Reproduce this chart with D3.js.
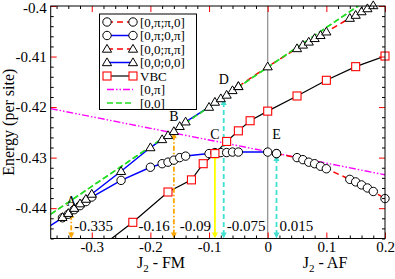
<!DOCTYPE html>
<html lang="en">
<head>
<meta charset="UTF-8">
<title>Energy per site</title>
<script src="https://cdn.jsdelivr.net/npm/d3@7/dist/d3.min.js"></script>
<style>
  body { margin: 0; background: #fff; }
  svg { font-family: "Liberation Serif", "DejaVu Serif", serif; }
</style>
</head>
<body>
<svg id="chart" width="395" height="279"></svg>
<script>
// ---- data ----
const s1X = [0.015, 0.05, 0.06, 0.07, 0.08, 0.09, 0.1, 0.14, 0.15, 0.16, 0.17, 0.18, 0.2]
const s1Y = [-0.4292, -0.4300, -0.4304, -0.4309, -0.4312, -0.4317, -0.4322, -0.4343, -0.4348, -0.4354, -0.4360, -0.4367, -0.4381]

const s2X = [-0.40, -0.35, -0.34, -0.33, -0.32, -0.31, -0.30, -0.25, -0.20, -0.18, -0.17, -0.16, -0.15, -0.14, -0.10, -0.09, -0.08, -0.07, -0.06, -0.05, 0, 0.015]
const s2Y = [-0.4457, -0.4419, -0.4412, -0.4403, -0.4395, -0.4387, -0.4378, -0.4345, -0.4319, -0.4312, -0.4309, -0.4305, -0.4300, -0.4297, -0.4292, -0.4290, -0.4290, -0.4290, -0.4289, -0.4289, -0.4289, -0.4292]

const s3X = [-0.05, 0, 0.05, 0.06, 0.07, 0.08, 0.09, 0.1, 0.14, 0.15, 0.16, 0.17, 0.18]
const s3Y = [-0.4159, -0.4120, -0.4084, -0.4077, -0.4071, -0.4064, -0.4058, -0.4051, -0.4024, -0.4018, -0.4011, -0.4005, -0.3999]

const s4X = [-0.35, -0.34, -0.33, -0.32, -0.31, -0.30, -0.25, -0.20, -0.18, -0.17, -0.16, -0.15, -0.14, -0.10, -0.09, -0.08, -0.07, -0.06, -0.05]
const s4Y = [-0.4418, -0.4410, -0.4400, -0.4391, -0.4382, -0.4372, -0.4327, -0.4280, -0.4264, -0.4256, -0.4248, -0.4238, -0.4229, -0.4200, -0.4190, -0.4183, -0.4176, -0.4167, -0.4159]

const vbcX = [-0.3, -0.23, -0.17, -0.13, -0.11, -0.09, -0.07, -0.05, -0.03, 0, 0.05, 0.1, 0.15, 0.2]
const vbcY = [-0.4490, -0.4428, -0.4368, -0.4344, -0.4312, -0.4292, -0.4268, -0.4247, -0.4227, -0.4208, -0.4178, -0.4147, -0.4120, -0.4099]

const piX = [-0.37, 0.2]
const piY = [-0.4203, -0.4334]
const zeroX = [-0.37, 0.2]
const zeroY = [-0.4412, -0.3964]

const markX = [-0.335, -0.16, -0.09, -0.075, 0.015]
const markTop = [-0.4407, -0.4250, -0.4290, -0.4184, -0.4295]
const markText = ['-0.335', '-0.16', '-0.09', '-0.075', '0.015']

const pointNames = ['A', 'B', 'C', 'D', 'E']
const pointX = [-0.335, -0.16, -0.09, -0.075, 0.015]
const pointY = [-0.4395, -0.4227, -0.4263, -0.4155, -0.4264]

const xMajor = [-0.3, -0.2, -0.1, 0, 0.1, 0.2]
const xMinor = [-0.36, -0.34, -0.32, -0.28, -0.26, -0.24, -0.22, -0.18, -0.16, -0.14, -0.12, -0.08, -0.06, -0.04, -0.02, 0.02, 0.04, 0.06, 0.08, 0.12, 0.14, 0.16, 0.18]
const yMajor = [-0.44, -0.43, -0.42, -0.41, -0.4]
const yMinor = [-0.446, -0.444, -0.442, -0.438, -0.436, -0.434, -0.432, -0.428, -0.426, -0.424, -0.422, -0.418, -0.416, -0.414, -0.412, -0.408, -0.406, -0.404, -0.402]

const legendLabels = ['[0,\u03c0;\u03c0,0]', '[0,\u03c0;0,\u03c0]', '[0,0;\u03c0,\u03c0]', '[0,0;0,0]', 'VBC', '[0,\u03c0]', '[0,0]']

// ---- layout ----
const pL = 50.7, pR = 385, pT = 6, pB = 238.5
const svg = d3.select('#chart')
const x = d3.scaleLinear().domain([-0.37, 0.2]).range([pL, pR])
const y = d3.scaleLinear().domain([-0.446, -0.4]).range([pB, pT])
const fmt = d => String(+d.toFixed(3))

svg.append('defs').append('clipPath').attr('id', 'clip')
  .append('rect').attr('x', pL).attr('y', pT).attr('width', pR - pL).attr('height', pB - pT)

const zip = (xs, ys) => xs.map((v, i) => [v, ys[i]])
const line = d3.line().x(d => x(d[0])).y(d => y(d[1]))
const inside = d => d[0] >= -0.37 && d[0] <= 0.2 && d[1] >= -0.4465 && d[1] <= -0.3995

const plot = svg.append('g').attr('clip-path', 'url(#clip)')

// vertical line at J2 = 0
plot.append('line').attr('x1', x(0)).attr('x2', x(0)).attr('y1', pT).attr('y2', pB)
  .attr('stroke', '#8c8c8c').attr('stroke-width', 1.2)

const series = [
  { d: zip(piX, piY), color: '#ff00ff', dash: '7,2,1.5,2,1.5,2', w: 1.4, mark: null },
  { d: zip(zeroX, zeroY), color: '#22dd22', dash: '6,3', w: 1.5, mark: null },
  { d: zip(s2X, s2Y), color: '#0000ff', dash: null, w: 1.5, mark: 'circle' },
  { d: zip(s4X, s4Y), color: '#0000ff', dash: null, w: 1.5, mark: 'tri' },
  { d: zip(s1X, s1Y), color: '#ff0000', dash: '6,4', w: 1.5, mark: 'circle' },
  { d: zip(s3X, s3Y), color: '#ff0000', dash: '6,4', w: 1.5, mark: 'tri' },
  { d: zip(vbcX, vbcY), color: '#000000', dash: null, w: 1.2, mark: 'square' }
]

series.forEach(s => {
  plot.append('path').datum(s.d).attr('d', line)
    .attr('fill', 'none').attr('stroke', s.color).attr('stroke-width', s.w)
    .attr('stroke-dasharray', s.dash)
})

// green dashed drawn again over the triangles lines
plot.append('path').datum(zip(zeroX, zeroY)).attr('d', line)
  .attr('fill', 'none').attr('stroke', '#22dd22').attr('stroke-width', 1.5).attr('stroke-dasharray', '6,3')

// arrows
const markColor = ['#ffa500', '#ffa500', '#ffff00', '#40e0d0', '#40e0d0']
const markDash = ['5,2,1.5,2', '5,2,1.5,2', null, '5,3', '5,3']
const arrows = svg.append('g')
markX.forEach((mx, i) => {
  const px = x(mx), y0 = y(markTop[i]), y1 = pB
  arrows.append('line').attr('x1', px).attr('x2', px).attr('y1', y0 + 3).attr('y2', y1 - 4)
    .attr('stroke', markColor[i]).attr('stroke-width', 1.8).attr('stroke-dasharray', markDash[i])
  arrows.append('path').attr('d', `M${px},${y1} L${px - 3},${y1 - 6} L${px + 3},${y1 - 6} Z`).attr('fill', markColor[i])
  arrows.append('path').attr('d', `M${px},${y0} L${px - 3},${y0 + 6} L${px + 3},${y0 + 6} Z`).attr('fill', markColor[i])
})

// markers
const drawMark = (g, type, px, py) => {
  if (type === 'circle') {
    g.append('circle').attr('cx', px).attr('cy', py).attr('r', 4.2)
      .attr('fill', '#fff').attr('stroke', '#000').attr('stroke-width', 1)
  } else if (type === 'tri') {
    g.append('path').attr('d', `M${px},${py - 4.6} L${px + 4.6},${py + 3.2} L${px - 4.6},${py + 3.2} Z`)
      .attr('fill', '#fff').attr('stroke', '#000').attr('stroke-width', 1)
  } else if (type === 'square') {
    g.append('rect').attr('x', px - 4).attr('y', py - 4).attr('width', 8).attr('height', 8)
      .attr('fill', '#fff').attr('stroke', '#ff0000').attr('stroke-width', 1.1)
  }
}
const marks = svg.append('g')
series.filter(s => s.mark).forEach(s => {
  s.d.filter(inside).forEach(d => drawMark(marks, s.mark, x(d[0]), y(d[1])))
})

// point letters
svg.append('g').selectAll('text').data(pointNames).enter().append('text')
  .attr('x', (d, i) => x(pointX[i])).attr('y', (d, i) => y(pointY[i]))
  .attr('text-anchor', 'middle').attr('font-size', 14).text(d => d)

// arrow value labels
const labelSide = ['start', 'end', 'end', 'start', 'start']
svg.append('g').selectAll('text').data(markText).enter().append('text')
  .attr('x', (d, i) => x(markX[i]) + (labelSide[i] === 'start' ? 3 : -4))
  .attr('y', 231).attr('text-anchor', (d, i) => labelSide[i])
  .attr('font-size', 15).text(d => d)

// ---- axes ----
const styleAxis = (g, color) => {
  g.select('.domain').remove()
  g.selectAll('.tick line').attr('stroke', color)
  g.selectAll('.tick text').attr('font-family', '"Liberation Serif", serif').attr('font-size', 15).attr('fill', '#000')
}
svg.append('g').attr('transform', `translate(0,${pB})`)
  .call(d3.axisBottom(x).tickValues(xMinor).tickSize(-3).tickFormat('')).call(g => styleAxis(g, '#000'))
svg.append('g').attr('transform', `translate(0,${pT})`)
  .call(d3.axisTop(x).tickValues(xMinor).tickSize(-3).tickFormat('')).call(g => styleAxis(g, '#000'))
svg.append('g').attr('transform', `translate(${pL},0)`)
  .call(d3.axisLeft(y).tickValues(yMinor).tickSize(-3).tickFormat('')).call(g => styleAxis(g, '#000'))
svg.append('g').attr('transform', `translate(${pR},0)`)
  .call(d3.axisRight(y).tickValues(yMinor).tickSize(-3).tickFormat('')).call(g => styleAxis(g, '#000'))

svg.append('g').attr('transform', `translate(0,${pB})`)
  .call(d3.axisBottom(x).tickValues(xMajor).tickSize(-6).tickPadding(3).tickFormat(fmt)).call(g => styleAxis(g, '#ff0000'))
svg.append('g').attr('transform', `translate(0,${pT})`)
  .call(d3.axisTop(x).tickValues(xMajor).tickSize(-6).tickFormat('')).call(g => styleAxis(g, '#ff0000'))
svg.append('g').attr('transform', `translate(${pL},0)`)
  .call(d3.axisLeft(y).tickValues(yMajor).tickSize(-6).tickPadding(4).tickFormat(fmt))
  .call(g => styleAxis(g, '#ff0000'))
  .call(g => g.selectAll('.tick text').filter(d => d === -0.4).attr('dy', '0.45em'))
svg.append('g').attr('transform', `translate(${pR},0)`)
  .call(d3.axisRight(y).tickValues(yMajor).tickSize(-6).tickFormat('')).call(g => styleAxis(g, '#ff0000'))

svg.append('rect').attr('x', pL).attr('y', pT).attr('width', pR - pL).attr('height', pB - pT)
  .attr('fill', 'none').attr('stroke', '#000').attr('stroke-width', 1)

// axis titles
const xt1 = svg.append('text').attr('x', 161).attr('y', 268).attr('text-anchor', 'middle').attr('font-size', 16)
xt1.append('tspan').text('J')
xt1.append('tspan').attr('font-size', 11).attr('dy', 4).text('2')
xt1.append('tspan').attr('dy', -4).text(' - FM')
const xt2 = svg.append('text').attr('x', 325).attr('y', 268).attr('text-anchor', 'middle').attr('font-size', 16)
xt2.append('tspan').text('J')
xt2.append('tspan').attr('font-size', 11).attr('dy', 4).text('2')
xt2.append('tspan').attr('dy', -4).text(' - AF')

svg.append('text').attr('transform', `translate(14,${(pT + pB) / 2}) rotate(-90)`)
  .attr('text-anchor', 'middle').attr('font-size', 16).text('Energy (per site)')

// ---- legend ----
const lg = svg.append('g')
lg.append('rect').attr('x', 99.5).attr('y', 14).attr('width', 97).attr('height', 95.5)
  .attr('fill', '#fff').attr('stroke', '#000').attr('stroke-width', 1)
const legendSeries = [series[4], series[2], series[5], series[3], series[6], series[0], series[1]]
legendSeries.forEach((s, i) => {
  const ly = 22 + i * 13.5
  lg.append('line').attr('x1', 107).attr('x2', 133).attr('y1', ly).attr('y2', ly)
    .attr('stroke', s.color).attr('stroke-width', s.w).attr('stroke-dasharray', s.dash)
  if (s.mark) { drawMark(lg, s.mark, 107, ly); drawMark(lg, s.mark, 133, ly) }
  lg.append('text').attr('x', 140).attr('y', ly + 4.5).attr('font-size', 13).text(legendLabels[i])
})
</script>
</body>
</html>
